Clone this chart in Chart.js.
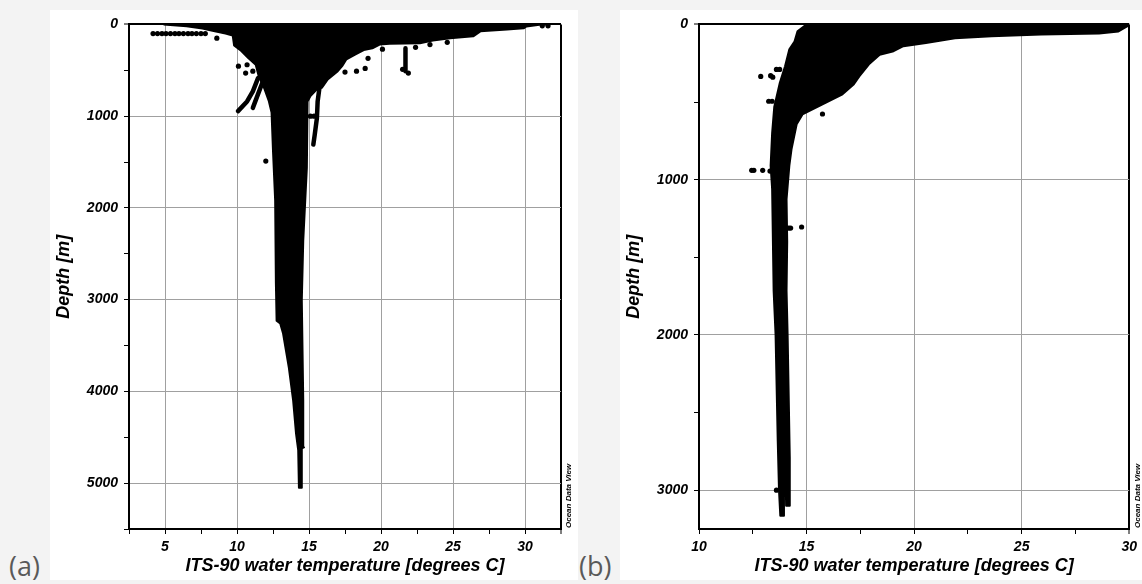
<!DOCTYPE html>
<html>
<head>
<meta charset="utf-8">
<script src="https://cdn.jsdelivr.net/npm/chart.js@4.4.1/dist/chart.umd.min.js"></script>
<style>
body { margin: 0; background: #f3f3f3; width: 1142px; height: 584px; overflow: hidden; position: relative; }
.panel { position: absolute; background: #fff; }
.panel canvas { position: absolute; left: 0; top: 0; }
.tag { position: absolute; font-family: "Open Sans", sans-serif; font-size: 27px; line-height: 1; color: #595959; }
.odv { position: absolute; font: italic bold 8px "Liberation Sans", Arial, sans-serif; color: #000;
       transform: rotate(-90deg); transform-origin: left top; white-space: nowrap; line-height: 1; }
</style>
</head>
<body>
<div class="panel" style="left:50px; top:10px; width:528px; height:570px;">
  <canvas id="chartA" width="528" height="570"></canvas>
</div>
<div class="panel" style="left:620px; top:10px; width:522px; height:570px;">
  <canvas id="chartB" width="522" height="570"></canvas>
</div>
<div class="tag" style="left:9px; top:552px;">(a)</div>
<div class="tag" style="left:579px; top:552px;">(b)</div>
<div class="odv" style="left:565px; top:528px;">Ocean Data View</div>
<div class="odv" style="left:1134px; top:528px;">Ocean Data View</div>
<script>
// tick positions (labels only on the major ones)
const xTicksA = [2.5, 5, 7.5, 10, 12.5, 15, 17.5, 20, 22.5, 25, 27.5, 30, 32.5];
const yTicksA = [0, 500, 1000, 1500, 2000, 2500, 3000, 3500, 4000, 4500, 5000, 5500];
const xTicksB = [10, 12.5, 15, 17.5, 20, 22.5, 25, 27.5, 30];
const yTicksB = [0, 500, 1000, 1500, 2000, 2500, 3000, 3250];

// panel (a): outline of the dense cloud, temperature [degC] / depth [m]
const cloudA_T = [4.9, 6.5, 7.6, 8.3, 9.2, 9.7, 9.8, 10.3, 10.8, 11.3, 11.5, 11.9, 12.2, 12.4, 12.5, 12.65, 12.7, 12.75, 13.0, 13.2,
  13.6, 13.9, 14.1, 14.25, 14.3, 14.45, 14.5, 14.65, 14.6, 14.5, 14.6, 14.85, 14.9, 15.1, 15.6, 15.9, 16.3, 17.0, 17.3, 17.6,
  18.2, 18.8, 19.4, 19.9, 20.6, 22.7, 23.6, 24.8, 26.4, 26.9, 28.75, 29.9, 30.1, 31.0, 31.6];
const cloudA_D = [0, 20, 45, 70, 100, 120, 230, 290, 370, 440, 560, 700, 830, 960, 1380, 1920, 2815, 3230, 3260, 3370,
  3740, 4100, 4460, 4640, 5050, 5050, 4620, 4610, 4100, 3010, 2360, 1565, 840, 780, 700, 690, 600, 510, 455, 380,
  330, 280, 260, 220, 210, 205, 175, 150, 130, 76, 55, 43, 22, 5, 0];

// panel (a): profile streaks
const streakA1_T = [10.07, 10.7, 11.1, 11.46];
const streakA1_D = [945, 840, 730, 585];
const streakA2_T = [11.1, 11.46, 11.8];
const streakA2_D = [910, 760, 620];
const streakA3_T = [15.76, 15.6, 15.55, 15.4, 15.3];
const streakA3_D = [650, 840, 1020, 1200, 1310];
const streakA4_T = [21.7, 21.7];
const streakA4_D = [260, 510];

// panel (a): single samples
const dotsA_T = [4.17, 4.48, 4.79, 5.07, 5.38, 5.69, 5.97, 6.28, 6.6, 6.87, 7.18, 7.5, 7.8, 8.6,
  10.1, 10.7, 10.6, 11.1, 12.0, 15.1, 15.35, 17.5, 18.3, 18.9, 19.1, 20.1, 21.5, 21.9, 22.4, 23.4, 24.6, 31.2, 31.6];
const dotsA_D = [100, 100, 100, 100, 100, 100, 100, 100, 100, 100, 100, 100, 100, 150,
  455, 440, 530, 510, 1490, 1000, 1000, 520, 510, 480, 370, 270, 490, 530, 250, 220, 195, 15, 15];

// panel (b)
const cloudB_T = [15.0, 14.58, 14.44, 14.2, 14.0, 13.75, 13.5, 13.4, 13.33, 13.4, 13.47, 13.56, 13.66, 13.72, 13.78,
  13.92, 13.95, 14.02, 14.05, 14.2, 14.22, 14.12, 14.07, 14.1, 14.07, 14.2, 14.3, 14.54, 14.81, 15.74,
  16.67, 17.2, 17.45, 17.9, 18.4, 19.0, 19.5, 20.55, 21.9, 23.6, 25.9, 28.6, 29.5, 29.9, 30.0];
const cloudB_D = [0, 45, 110, 160, 270, 380, 530, 700, 910, 1060, 1717, 2000, 2680, 3003, 3164,
  3164, 2800, 2800, 3100, 3100, 2790, 2000, 1717, 1400, 1125, 910, 805, 643, 580, 515,
  450, 385, 335, 257, 195, 175, 140, 120, 90, 77, 65, 58, 45, 13, 0];
const dotsB_T = [12.87, 13.33, 13.43, 13.6, 13.75, 13.24, 13.4, 15.74, 12.45, 12.55, 12.96, 13.3,
  14.07, 14.17, 14.26, 14.77, 13.6, 15.0, 15.5];
const dotsB_D = [335, 330, 340, 290, 290, 495, 495, 577, 940, 940, 940, 945,
  1312, 1312, 1312, 1305, 3000, 5, 5];

const GRID = '#a0a0a0';
const NONE = 'rgba(0,0,0,0)';
const tickFont = { family: '"Liberation Sans", Arial, sans-serif', size: 14, weight: 'bold', style: 'italic' };
const titleFont = { family: '"Liberation Sans", Arial, sans-serif', size: 18, weight: 'bold', style: 'italic' };

function pts(T, D) {
  return T.map((t, i) => ({ x: t, y: D[i] }));
}
function shape(T, D) {
  return { data: pts(T, D), fill: 'shape', backgroundColor: '#000', borderColor: '#000',
    borderWidth: 2, borderJoinStyle: 'round', pointRadius: 0, tension: 0 };
}
function streak(T, D) {
  return { data: pts(T, D), fill: false, borderColor: '#000', borderWidth: 4.5,
    borderCapStyle: 'round', borderJoinStyle: 'round', pointRadius: 0, tension: 0 };
}
function dots(T, D) {
  return { data: pts(T, D), showLine: false, pointRadius: 2.6, pointBorderWidth: 0,
    pointBackgroundColor: '#000', borderColor: '#000' };
}

function makeChart(id, datasets, xTicks, yTicks, padRight) {
  const xMax = xTicks[xTicks.length - 1];
  new Chart(document.getElementById(id).getContext('2d'), {
    type: 'line',
    data: { datasets: datasets },
    options: {
      responsive: false,
      animation: false,
      events: [],
      layout: { padding: { top: 13, right: padRight, left: 0, bottom: 0 } },
      plugins: { legend: { display: false }, tooltip: { enabled: false } },
      scales: {
        x: {
          type: 'linear', min: xTicks[0], max: xMax,
          afterBuildTicks: s => { s.ticks = xTicks.map(v => ({ value: v })); },
          ticks: { autoSkip: false, maxRotation: 0, padding: 5, color: '#000', font: tickFont,
            callback: v => (v % 5 === 0 ? String(v) : '') },
          grid: {
            color: c => (c.tick.value === xMax ? '#000' : (c.tick.value % 5 === 0 ? GRID : NONE)),
            lineWidth: c => (c.tick.value === xMax ? 2 : 1),
            tickColor: '#000', tickLength: 5, tickWidth: 1
          },
          border: { color: '#000', width: 2 },
          title: { display: true, text: 'ITS-90 water temperature [degrees C]', color: '#000', font: titleFont,
            padding: { top: 0, bottom: 3 } },
          afterFit: s => { s.height = 51; }
        },
        y: {
          type: 'linear', reverse: true, min: yTicks[0], max: yTicks[yTicks.length - 1],
          afterBuildTicks: s => { s.ticks = yTicks.map(v => ({ value: v })); },
          ticks: { autoSkip: false, padding: 6, color: '#000', font: tickFont,
            callback: v => (v % 1000 === 0 ? String(v) : '') },
          grid: {
            color: c => (c.tick.value === 0 ? '#000' : (c.tick.value % 1000 === 0 ? GRID : NONE)),
            lineWidth: c => (c.tick.value === 0 ? 2 : 1),
            tickColor: c => (c.tick.value % 500 === 0 ? '#000' : NONE), tickLength: 5, tickWidth: 1
          },
          border: { color: '#000', width: 2 },
          title: { display: true, text: 'Depth [m]', color: '#000', font: titleFont, padding: { top: 3, bottom: 0 } },
          afterFit: s => { s.width = 79; }
        }
      }
    }
  });
}

makeChart('chartA', [
  shape(cloudA_T, cloudA_D),
  streak(streakA1_T, streakA1_D),
  streak(streakA2_T, streakA2_D),
  streak(streakA3_T, streakA3_D),
  streak(streakA4_T, streakA4_D),
  dots(dotsA_T, dotsA_D)
], xTicksA, yTicksA, 17);

makeChart('chartB', [
  shape(cloudB_T, cloudB_D),
  dots(dotsB_T, dotsB_D)
], xTicksB, yTicksB, 11);
</script>
</body>
</html>
